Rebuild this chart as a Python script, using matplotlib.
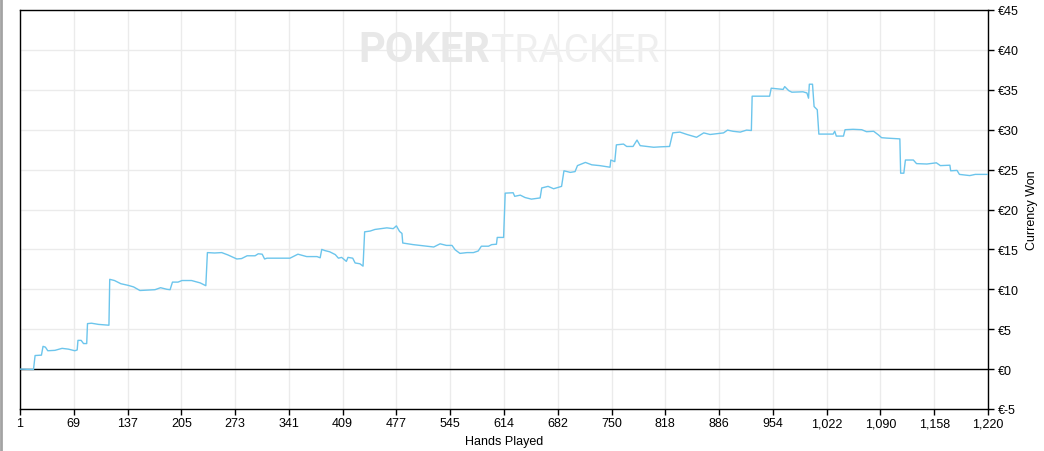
import matplotlib
matplotlib.use("Agg")
import matplotlib.pyplot as plt
from matplotlib.lines import Line2D

# ---- data ----
hands = [1, 18, 20, 28, 30, 33, 36, 45, 54, 62, 70, 73, 74, 78, 81, 85, 86, 91, 100, 113,
         114, 120, 128, 137, 144, 152, 163, 171, 178, 186, 190, 193, 200, 205, 217, 228, 235,
         237, 246, 255, 263, 274, 280, 287, 297, 301, 306, 309, 312, 341, 345, 351, 362, 375,
         379, 381, 385, 391, 398, 402, 406, 412, 414, 420, 423, 429, 433, 435, 442, 448, 463,
         471, 475, 479, 482, 483, 496, 522, 530, 538, 545, 549, 555, 564, 572, 578, 582, 591,
         595, 601, 602, 610, 612, 622, 624, 631, 637, 645, 656, 658, 666, 673, 683, 686, 694,
         700, 703, 713, 721, 731, 744, 745, 750, 752, 761, 765, 773, 778, 782, 799, 807, 819,
         823, 832, 841, 853, 862, 870, 887, 892, 899, 908, 916, 922, 923, 945, 947, 958, 962,
         964, 969, 973, 987, 992, 994, 995, 999, 1001, 1005, 1007, 1025, 1027, 1029, 1038,
         1040, 1050, 1061, 1067, 1076, 1082, 1086, 1092, 1109, 1110, 1114, 1116, 1126, 1130,
         1143, 1155, 1160, 1172, 1173, 1181, 1184, 1197, 1204, 1220]
won = [0.0, -0.05, 1.7, 1.75, 2.85, 2.75, 2.3, 2.35, 2.6, 2.5, 2.3, 2.4, 3.6, 3.6, 3.2, 3.2,
       5.7, 5.75, 5.6, 5.5, 11.25, 11.1, 10.7, 10.5, 10.3, 9.85, 9.9, 9.95, 10.2, 10.0, 9.95,
       10.9, 10.9, 11.1, 11.1, 10.8, 10.45, 14.6, 14.55, 14.6, 14.3, 13.8, 13.85, 14.2, 14.2,
       14.45, 14.4, 13.8, 13.9, 13.9, 14.1, 14.4, 14.1, 14.1, 13.95, 15.0, 14.85, 14.7, 14.35,
       13.9, 14.0, 13.5, 14.0, 13.9, 13.3, 13.2, 12.9, 17.2, 17.3, 17.5, 17.7, 17.6, 17.95,
       17.25, 17.0, 15.8, 15.6, 15.3, 15.7, 15.5, 15.5, 14.95, 14.5, 14.6, 14.6, 14.8, 15.4,
       15.4, 15.6, 15.65, 16.5, 16.5, 22.05, 22.1, 21.65, 21.8, 21.5, 21.3, 21.45, 22.7, 22.9,
       22.6, 22.9, 24.85, 24.65, 24.75, 25.5, 25.9, 25.6, 25.5, 25.3, 26.2, 26.0, 28.1, 28.2,
       27.9, 27.9, 28.7, 28.0, 27.8, 27.85, 27.9, 29.6, 29.7, 29.4, 29.05, 29.6, 29.4, 29.6,
       29.95, 29.8, 29.7, 29.95, 29.9, 34.2, 34.2, 35.2, 35.1, 35.05, 35.4, 34.9, 34.7, 34.75,
       34.6, 33.95, 35.7, 35.7, 32.9, 32.5, 29.45, 29.45, 29.8, 29.2, 29.2, 30.0, 30.05, 30.0,
       29.75, 29.8, 29.35, 29.0, 28.95, 28.85, 24.55, 24.55, 26.2, 26.2, 25.75, 25.7, 25.85,
       25.5, 25.55, 24.85, 24.9, 24.4, 24.25, 24.4, 24.4]

x_tick_labels = ["1", "69", "137", "205", "273", "341", "409", "477", "545", "614", "682",
                 "750", "818", "886", "954", "1,022", "1,090", "1,158", "1,220"]
y_tick_values = [-5, 0, 5, 10, 15, 20, 25, 30, 35, 40, 45]
y_tick_labels = ["€-5", "€0", "€5", "€10", "€15", "€20", "€25", "€30", "€35", "€40", "€45"]

plt.rcParams['font.family'] = ['Liberation Sans', 'DejaVu Sans']

W, H = 1044, 452
fig = plt.figure(figsize=(W / 100, H / 100), dpi=100)
fig.patch.set_facecolor('white')
ax = fig.add_axes([20 / W, 1 - 410 / H, (988 - 20) / W, (410 - 11) / H])

x_min, x_max = 1, 1220
ax.set_xlim(x_min, x_max)
ax.set_ylim(-5, 45)

n = len(x_tick_labels)
xt = [x_min + (x_max - x_min) * i / (n - 1) for i in range(n)]
ax.set_xticks(xt)
ax.set_xticklabels(x_tick_labels)
ax.set_yticks(y_tick_values)
ax.set_yticklabels(y_tick_labels)

ax.yaxis.tick_right()
ax.yaxis.set_label_position('right')
ax.tick_params(axis='both', direction='out', length=4, width=1, colors='black',
               labelsize=9, pad=2)
ax.tick_params(axis='y', pad=3)

ax.grid(True, color='#ebebeb', linewidth=1)
ax.set_axisbelow(True)
for s in ax.spines.values():
    s.set_color('black')
    s.set_linewidth(1)

ax.axhline(0, color='black', linewidth=1, zorder=2)
ax.plot(hands, won, color='#6cc5ec', linewidth=1.0, zorder=3)

ax.set_xlabel('Hands Played', fontsize=9, labelpad=4)
ax.set_ylabel('Currency Won', fontsize=9, labelpad=5)

# watermark
ax.text(490 / W, 1 - 62 / H, 'POKER', transform=fig.transFigure, ha='right', va='baseline',
        fontsize=30, fontweight='bold', color='#e8e8e8', family='Roboto', zorder=1)
ax.text(491 / W, 1 - 62 / H, 'TRACKER', transform=fig.transFigure, ha='left', va='baseline',
        fontsize=28, color='#efefef', family='Roboto', zorder=1)

# grey left border
fig.add_artist(Line2D([1 / W, 1 / W], [0, 1], color='#a3a3a3', linewidth=2,
                      transform=fig.transFigure))

fig.savefig('out.png', dpi=100, facecolor='white')
